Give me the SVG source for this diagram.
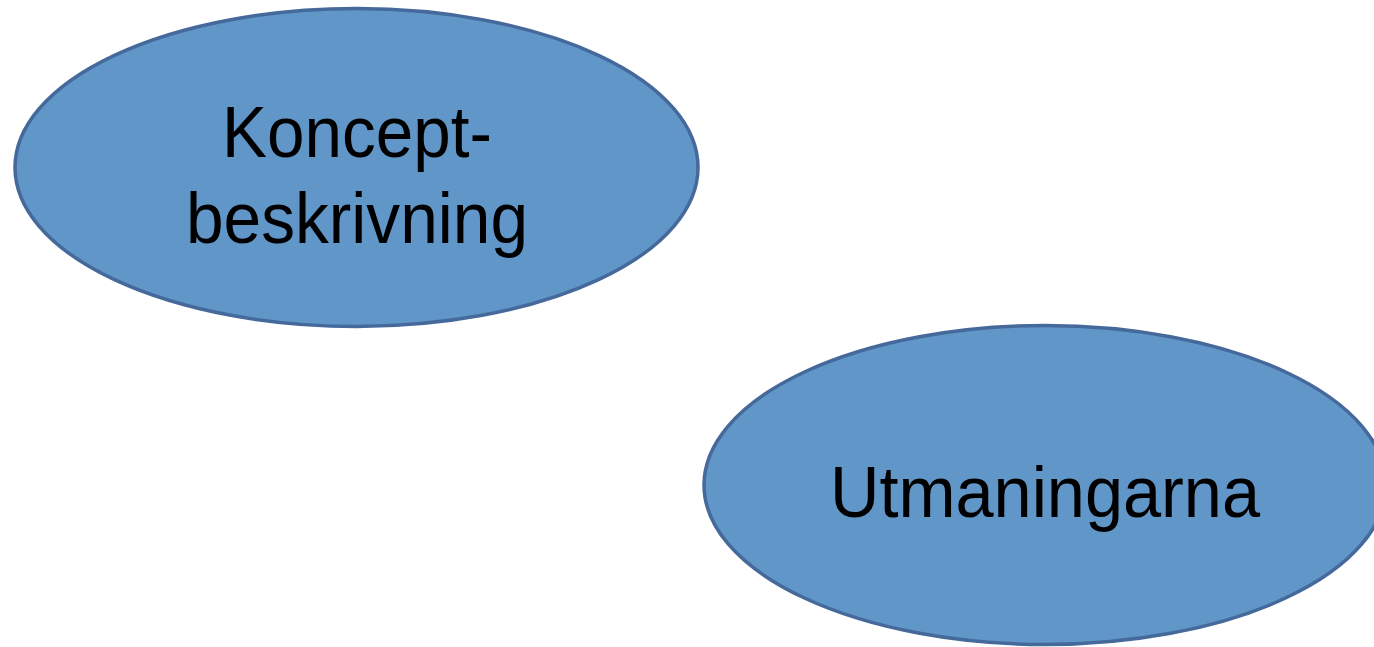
<svg xmlns="http://www.w3.org/2000/svg" width="1374" height="647" viewBox="0 0 1374 647">
<style>
.node{fill:#6096c8;stroke:#44699a;stroke-width:3.5}
.lbl{font-family:"Liberation Sans",Arial,sans-serif;font-size:72px;fill:#000;text-anchor:middle}
</style>
<rect width="1374" height="647" fill="#ffffff"/>
<g id="connectors"></g>
<g id="node-koncept">
<ellipse class="node" cx="356.5" cy="167.5" rx="341.5" ry="159"/>
<text class="lbl" x="357" y="157" textLength="270" lengthAdjust="spacingAndGlyphs">Koncept-</text>
<text class="lbl" x="357" y="243" textLength="342" lengthAdjust="spacingAndGlyphs">beskrivning</text>
</g>
<g id="node-utmaningarna">
<ellipse class="node" cx="1045" cy="485" rx="341" ry="159.5"/>
<text class="lbl" x="1045" y="517" textLength="430" lengthAdjust="spacingAndGlyphs">Utmaningarna</text>
</g>
</svg>
